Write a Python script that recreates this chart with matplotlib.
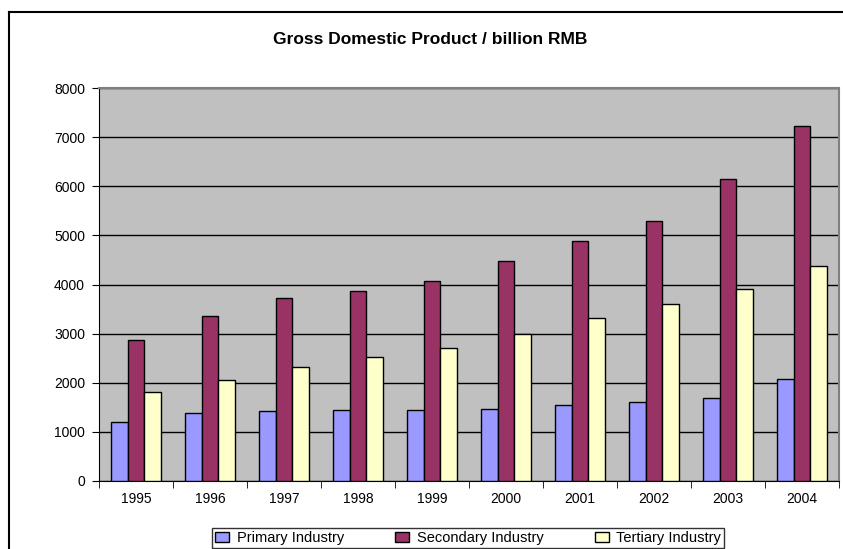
import matplotlib.pyplot as plt
import numpy as np
from matplotlib.lines import Line2D

plt.rcParams['font.family'] = ['Liberation Sans', 'DejaVu Sans']

years = ['1995', '1996', '1997', '1998', '1999', '2000', '2001', '2002', '2003', '2004']
primary = [1207, 1391, 1431, 1452, 1452, 1472, 1540, 1601, 1696, 2070]
secondary = [2864, 3366, 3719, 3874, 4064, 4485, 4879, 5299, 6141, 7233]
tertiary = [1805, 2050, 2314, 2531, 2701, 2992, 3318, 3610, 3915, 4383]
series_names = ['Primary Industry', 'Secondary Industry', 'Tertiary Industry']
colors = ['#9999FF', '#993366', '#FFFFCC']
yticks = [0, 1000, 2000, 3000, 4000, 5000, 6000, 7000, 8000]

fig = plt.figure(figsize=(8.43, 5.49), dpi=100)
ax = fig.add_axes([99 / 843, 1 - 481 / 549, (839 - 99) / 843, (481 - 88) / 549])
ax.set_facecolor('#C0C0C0')

x = np.arange(len(years))
w = 0.224
for i, (vals, name, c) in enumerate(zip([primary, secondary, tertiary], series_names, colors)):
    ax.bar(x + (i - 1) * w, vals, w, color=c, edgecolor='black', linewidth=1, label=name, zorder=3)

ax.set_xlim(-0.5, len(years) - 0.5)
ax.set_ylim(0, 8000)
ax.set_yticks(yticks)
ax.set_yticklabels([str(v) for v in yticks], fontsize=10)
ax.yaxis.grid(True, color='black', linewidth=1)
ax.set_axisbelow(True)

ax.set_xticks(x)
ax.set_xticklabels(years, fontsize=10)
ax.set_xticks(np.arange(len(years) + 1) - 0.5, minor=True)
ax.tick_params(axis='x', which='major', length=0, pad=8)
ax.tick_params(axis='x', which='minor', length=5, direction='out', color='black')
ax.tick_params(axis='y', length=5, direction='out', color='black', pad=5)

for side in ['left', 'bottom']:
    ax.spines[side].set_color('black')
for side in ['top', 'right']:
    ax.spines[side].set_color('#808080')
    ax.spines[side].set_linewidth(1.5)

fig.text(430 / 843, 1 - 39 / 549, 'Gross Domestic Product / billion RMB',
         ha='center', va='center', fontsize=12.5, fontweight='bold')

leg = ax.legend(loc='upper center', bbox_to_anchor=(468 / 843, 1 - 528 / 549),
                bbox_transform=fig.transFigure, ncol=3, fontsize=10.5, frameon=True,
                fancybox=False, edgecolor='black', handlelength=1.0, handleheight=0.7,
                handletextpad=0.5, columnspacing=3.5, borderpad=0.2, borderaxespad=0)
leg.get_frame().set_linewidth(1)

# outer chart frame (left and top edges visible)
fig.add_artist(Line2D([9 / 843, 9 / 843], [0, 1 - 12 / 549], transform=fig.transFigure, color='black', linewidth=1.5))
fig.add_artist(Line2D([9 / 843, 1], [1 - 12 / 549, 1 - 12 / 549], transform=fig.transFigure, color='black', linewidth=1.5))

fig.savefig('out.png', dpi=100)
